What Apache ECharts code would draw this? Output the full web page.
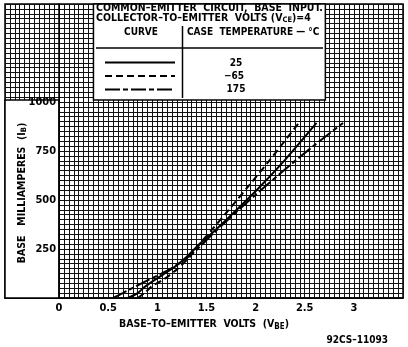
<!DOCTYPE html>
<html><head><meta charset="utf-8">
<script src="https://cdn.jsdelivr.net/npm/echarts@6/dist/echarts.min.js"></script>
<style>html,body{margin:0;padding:0;background:#fff}#c{width:408px;height:347px}</style>
</head><body><div id="c"></div>
<script>
// ---- data ----
const xTickLabels = [0, 0.5, 1, 1.5, 2, 2.5, 3];
const yTickLabels = [250, 500, 750, 1000];
const curveNames = ['25', '-65', '175'];
// 25 °C (solid)
const volts25 = [0.70, 0.80, 0.875, 1.05, 1.18, 1.30, 1.43, 1.55, 1.67, 2.01, 2.30, 2.62];
const mA25    = [0,    25,   58,    117,  160,  210,  275,  328,  384,  550,  705,  893];
// -65 °C (dashed)
const voltsM65 = [0.80, 0.88, 0.94, 1.08, 1.21, 1.33, 1.43, 1.55, 1.71, 1.94, 2.13, 2.44];
const mAM65    = [0,    30,   58,   100,  151,  210,  275,  345,  440,  578,  695,  893];
// 175 °C (long dash - short dash)
const volts175 = [0.55, 0.65, 0.74, 0.91, 1.08, 1.25, 1.38, 1.45, 1.57, 1.94, 2.32, 2.60, 2.89];
const mA175    = [0,    25,   49,   92,   134,  185,  236,  270,  330,  500,  665,  780,  893];

const FONT = '"DejaVu Sans Condensed","DejaVu Sans",sans-serif';
const zip = (a, b) => a.map((v, i) => [v, b[i]]);
const near = (arr, v) => arr.find(t => Math.abs(t - v) < 1e-6);

// grid-paper extents (V and mA)
const X_MIN = -0.55, X_MAX = 3.5, Y_MAX = 1500;
const GRID = {left: 5, right: 5, top: 4, bottom: 49};
const W = 408;
// pixel offset that puts the labelled y axis on V = 0
const yAxisShift = -((0 - X_MIN) / (X_MAX - X_MIN)) * (W - GRID.left - GRID.right);

const chart = echarts.init(document.getElementById('c'), null, {renderer: 'canvas'});
const gridLine = {show: true, lineStyle: {color: '#111', width: 1, type: 'solid'}};
const curveStyle = (dash) => ({color: '#000', width: 2, type: dash});
const labelFont = {color: '#000', fontSize: 11, fontWeight: 'bold', fontFamily: FONT};

chart.setOption({
  animation: false,
  backgroundColor: '#fff',
  textStyle: {fontFamily: FONT},
  grid: Object.assign({show: true, borderColor: '#000', borderWidth: 1.5,
         backgroundColor: '#fff', outerBoundsMode: 'none', containLabel: false}, GRID),
  xAxis: [{
    type: 'value', min: X_MIN, max: X_MAX, interval: 0.05,
    splitLine: gridLine,
    axisLine: {show: true, onZero: false, lineStyle: {color: '#000', width: 1.5}},
    axisTick: {show: false},
    axisLabel: Object.assign({
      margin: 5,
      formatter: v => { const t = near(xTickLabels, v); return t === undefined ? '' : String(t); }
    }, labelFont),
    name: '{a|BASE–TO–EMITTER  VOLTS  (V}{s|BE}{a|)}',
    nameLocation: 'middle', nameGap: 14,
    nameTextStyle: {rich: {
      a: {fontSize: 10.5, fontWeight: 'bold', color: '#000', fontFamily: FONT},
      s: {fontSize: 8, fontWeight: 'bold', color: '#000', fontFamily: FONT, padding: [5, 0, 0, 0]}
    }}
  }],
  yAxis: [{
    type: 'value', min: 0, max: Y_MAX, interval: 25, z: 0,
    splitLine: gridLine,
    axisLine: {show: false, onZero: false},
    axisTick: {show: false},
    axisLabel: {show: false}
  }, {
    type: 'value', min: 0, max: Y_MAX, interval: 25, z: 10, position: 'left', offset: yAxisShift,
    splitLine: {show: false},
    axisLine: {show: true, onZero: false, lineStyle: {color: '#000', width: 1.5}},
    axisTick: {show: false},
    axisLabel: Object.assign({
      margin: 3,
      formatter: v => { const t = near(yTickLabels, v); return t === undefined ? '' : String(t); }
    }, labelFont)
  }],
  series: [
    {
      type: 'line', data: [], silent: true, z: 1,
      markArea: {
        silent: true,
        itemStyle: {color: '#fff', borderColor: '#000', borderWidth: 1.5},
        data: [
          [{coord: [X_MIN, 0]}, {coord: [0, 1010]}],
          [{coord: [0.35, 1010]}, {coord: [2.71, Y_MAX]}]
        ]
      }
    },
    {name: curveNames[0], type: 'line', data: zip(volts25, mA25), smooth: 0.3, showSymbol: false, z: 5,
     lineStyle: curveStyle('solid')},
    {name: curveNames[1], type: 'line', data: zip(voltsM65, mAM65), smooth: 0.3, showSymbol: false, z: 5,
     lineStyle: curveStyle([7, 4])},
    {name: curveNames[2], type: 'line', data: zip(volts175, mA175), smooth: 0.3, showSymbol: false, z: 5,
     lineStyle: curveStyle([15, 3, 5, 3])}
  ],
  graphic: [
    {type: 'text', z: 100, style: {x: 96, y: 8, text: 'COMMON–EMITTER  CIRCUIT,  BASE  INPUT.', font: 'bold 10.5px ' + FONT, fill: '#000', textVerticalAlign: 'middle'}},
    {type: 'text', z: 100, style: {x: 96, y: 18, text: '{a|COLLECTOR–TO–EMITTER  VOLTS (V}{s|CE}{a|)=4}', fill: '#000', textVerticalAlign: 'middle',
      rich: {a: {font: 'bold 10.5px ' + FONT, fill: '#000'}, s: {font: 'bold 7.5px ' + FONT, fill: '#000', padding: [4, 0, 0, 0]}}}},
    {type: 'text', z: 100, style: {x: 141, y: 32, text: 'CURVE', font: 'bold 10px ' + FONT, fill: '#000', textAlign: 'center', textVerticalAlign: 'middle'}},
    {type: 'text', z: 100, style: {x: 187, y: 32, text: 'CASE  TEMPERATURE — °C', font: 'bold 10px ' + FONT, fill: '#000', textVerticalAlign: 'middle'}},
    {type: 'line', z: 100, shape: {x1: 96, y1: 48, x2: 323, y2: 48}, style: {stroke: '#000', lineWidth: 1.5}},
    {type: 'line', z: 100, shape: {x1: 182.5, y1: 26, x2: 182.5, y2: 98}, style: {stroke: '#000', lineWidth: 1.5}},
    {type: 'line', z: 100, shape: {x1: 105, y1: 62.5, x2: 175, y2: 62.5}, style: {stroke: '#000', lineWidth: 2}},
    {type: 'line', z: 100, shape: {x1: 105, y1: 76, x2: 175, y2: 76}, style: {stroke: '#000', lineWidth: 2, lineDash: [7, 4]}},
    {type: 'line', z: 100, shape: {x1: 105, y1: 89.5, x2: 175, y2: 89.5}, style: {stroke: '#000', lineWidth: 2, lineDash: [15, 3, 5, 3]}},
    {type: 'text', z: 100, style: {x: 236, y: 63, text: curveNames[0], font: 'bold 10px ' + FONT, fill: '#000', textAlign: 'center', textVerticalAlign: 'middle'}},
    {type: 'text', z: 100, style: {x: 234, y: 76, text: '−65', font: 'bold 10px ' + FONT, fill: '#000', textAlign: 'center', textVerticalAlign: 'middle'}},
    {type: 'text', z: 100, style: {x: 236, y: 89.5, text: curveNames[2], font: 'bold 10px ' + FONT, fill: '#000', textAlign: 'center', textVerticalAlign: 'middle'}},
    {type: 'text', z: 100, x: 22, y: 193, rotation: Math.PI / 2,
      style: {text: '{a|BASE   MILLIAMPERES  (I}{s|B}{a|)}', textAlign: 'center', textVerticalAlign: 'middle',
        rich: {a: {font: 'bold 10.5px ' + FONT, fill: '#000'}, s: {font: 'bold 7.5px ' + FONT, fill: '#000', padding: [4, 0, 0, 0]}}}},
    {type: 'text', z: 100, style: {x: 388, y: 340, text: '92CS–11093', font: 'bold 10px ' + FONT, fill: '#000', textAlign: 'right', textVerticalAlign: 'middle'}}
  ]
});
</script>
</body></html>
